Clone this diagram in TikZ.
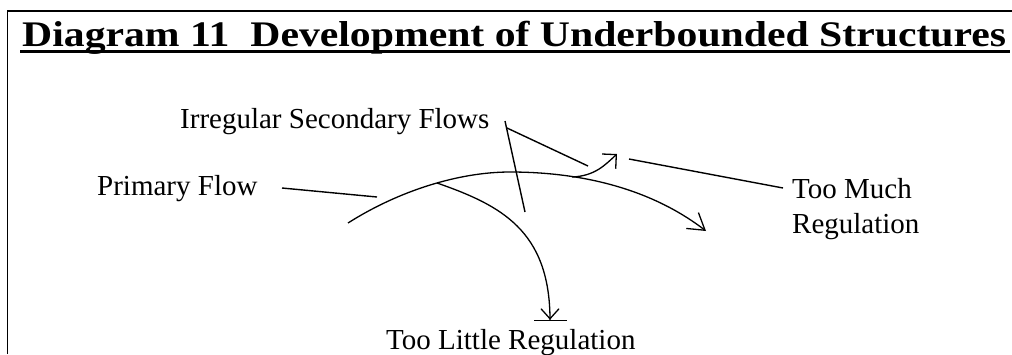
\documentclass[tikz,border=0pt]{standalone}
\usepackage{fontspec}
\setmainfont{Liberation Serif}
\usetikzlibrary{arrows.meta}
\begin{document}
\begin{tikzpicture}[x=1pt,y=-1pt,
  lbl/.style={font=\fontsize{29}{35}\selectfont, inner sep=0pt, anchor=base west},
  lead/.style={line width=1.4pt},
  flow/.style={line width=1.3pt},
  frame/.style={line width=1.5pt},
]
\useasboundingbox (0,0) rectangle (1012,354);
% frame
\coordinate (fbl) at (7.5,354);
\coordinate (ftl) at (7.5,11);
\coordinate (ftr) at (1012,11);
\draw[frame] (fbl) -- (ftl) -- (ftr);
% title
\node[anchor=base west, inner sep=0pt] (title) at (22,46)
  {\resizebox{984pt}{\height}{\fontsize{36}{40}\selectfont\bfseries Diagram 11\ \ Development of Underbounded Structures}};
\coordinate (ulA) at (20,51.5);
\coordinate (ulB) at (1010,51.5);
\draw[line width=3pt] (ulA) -- (ulB);
% labels
\node[lbl] (isf) at (180,128) {Irregular Secondary Flows};
\node[lbl] (pf) at (97,195) {Primary Flow};
\node[lbl, align=left] (tm) at (792,233) {Too Much\\Regulation};
\node[lbl] (tl) at (386,349) {Too Little Regulation};
% flow points
\coordinate (s) at (348,223);
\coordinate (peak) at (437,183);
\coordinate (mid) at (510,172);
\coordinate (tmEnd) at (706,231);
\coordinate (tlEnd) at (550,321);
\coordinate (smallStart) at (572,177);
\coordinate (smallEnd) at (617,154);
% flows
\draw[flow, -{Straight Barb[length=16pt,width=20pt]}]
  (s) .. controls (400,190) and (460,172) .. (mid)
      .. controls (580,172) and (650,188) .. (tmEnd);
\draw[flow, -{Straight Barb[length=10pt,width=18pt] Bar[width=33pt]}]
  (peak) .. controls (500,205) and (550,230) .. (tlEnd);
\draw[flow, -{Straight Barb[length=10pt,width=20pt]}]
  (smallStart) .. controls (595,176) and (605,165) .. (smallEnd);
% leaders
\coordinate (pfA) at (282,188);
\coordinate (pfB) at (377,197);
\draw[lead] (pfA) -- (pfB);
\coordinate (isfA) at (505,121);
\coordinate (isfA2) at (507,128);
\coordinate (isfB) at (525,212);
\coordinate (isfC) at (588,166);
\draw[lead] (isfA) -- (isfB);
\draw[lead] (isfA2) -- (isfC);
\coordinate (tmA) at (629,159);
\coordinate (tmB) at (783,188);
\draw[lead] (tmA) -- (tmB);
\end{tikzpicture}
\end{document}
